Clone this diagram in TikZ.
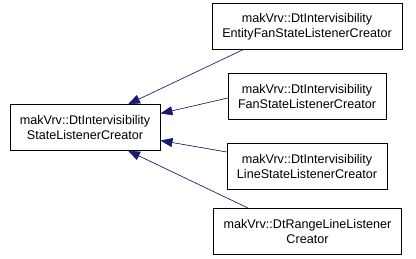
\documentclass[tikz,border=0pt]{standalone}
\usepackage{fontspec}
\setmainfont{Liberation Sans}
\usepackage{xcolor}
\usepackage{tikz}
\usetikzlibrary{arrows.meta,calc,positioning}
\definecolor{dxEdge}{HTML}{191970}
\tikzset{
  class box/.style={draw=black, fill=white, align=center, inner xsep=10pt,
    inner ysep=3pt, minimum height=46pt,
    font=\fontsize{12.6}{15}\selectfont},
  inherit/.style={{Triangle[length=12pt,width=9pt]}-, semithick,
    draw=dxEdge, fill=dxEdge}
}
\begin{document}
\begin{tikzpicture}[x=1pt, y=-1pt]
  \useasboundingbox (0,0) rectangle (416,259);
  \node[class box] (base) at (85,127.5)
    {makVrv::DtIntervisibility\\StateListenerCreator};
  \node[class box] (entityFan) at (307,26.5)
    {makVrv::DtIntervisibility\\EntityFanStateListenerCreator};
  \node[class box] (fan) at (307,96)
    {makVrv::DtIntervisibility\\FanStateListenerCreator};
  \node[class box] (line) at (307,166)
    {makVrv::DtIntervisibility\\LineStateListenerCreator};
  \node[class box] (rangeLine) at (307.5,231)
    {makVrv::DtRangeLineListener\\Creator};
  \draw[inherit] ([xshift=43pt]base.north) -- ([xshift=-64pt]entityFan.south);
  \draw[inherit] ([yshift=14pt]base.east) -- ([yshift=-2pt]fan.west);
  \draw[inherit] ([yshift=-13pt]base.east) -- ([yshift=14pt]line.west);
  \draw[inherit] ([xshift=43pt]base.south) -- ([xshift=-60pt]rangeLine.north);
\end{tikzpicture}
\end{document}
